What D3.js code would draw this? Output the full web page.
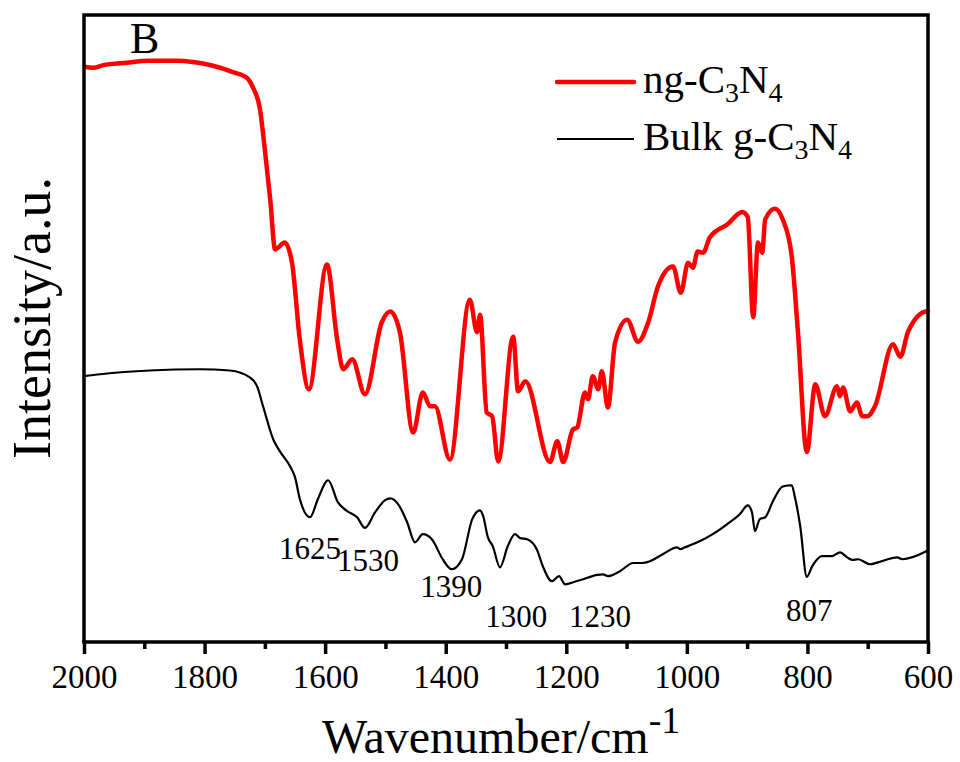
<!DOCTYPE html>
<html>
<head>
<meta charset="utf-8">
<script src="https://cdn.jsdelivr.net/npm/d3@7/dist/d3.min.js"></script>
<style>
  html, body { margin: 0; padding: 0; background: #fff; }
  text { font-family: "Liberation Serif", "Times New Roman", serif; fill: #000; }
</style>
</head>
<body>
<svg id="chart" width="960" height="762"></svg>
<script>
// ---- Data (wavenumber cm^-1, intensity a.u.) ----
const ngWave = [1998,1985,1968,1929,1895,1846,1819,1786,1753,1730,1720,1708,1700,1691,1683,1667,1655,1642,1627,1597,1580,1570,1555,1534,1506,1492,1476,1454,1438,1426,1418,1393,1360,1348,1343,1332,1323,1313,1288,1280,1268,1227,1215,1205,1189,1182,1169,1164,1156,1147,1141,1131,1119,1099,1081,1064,1048,1023,1010,998,990,982,973,962,933,908,899,890,882,875,870,854,841,826,816,801,787,771,751,746,741,729,718,709,701,688,658,646,633,602,600];
const ngInt  = [91.7,91.6,92.0,92.4,92.7,92.7,92.5,91.9,90.9,90.0,88.5,84.9,78.5,70.5,62.6,63.7,60.5,48.2,40.3,60.2,48.2,43.5,45.1,39.5,51.0,52.7,49.4,33.4,39.8,37.6,37.6,29.1,54.6,49.4,52.2,36.6,36.0,28.8,48.7,40.0,41.6,28.7,32.0,28.7,33.9,34.2,39.8,38.7,42.4,40.3,43.2,37.4,47.8,51.4,47.9,51.0,56.7,59.9,55.7,60.5,59.7,62.3,62.1,64.5,66.6,68.6,67.8,51.8,63.7,62.1,67.4,69.1,67.4,61.5,49.8,30.3,41.1,36.0,40.8,39.2,40.6,36.8,38.2,36.0,36.0,37.6,47.5,45.5,49.5,52.7,52.7];

const bulkWave = [2000,1973,1891,1808,1758,1725,1713,1703,1686,1675,1658,1650,1642,1625,1612,1595,1579,1564,1547,1534,1517,1501,1492,1479,1464,1451,1438,1423,1405,1390,1373,1356,1343,1338,1330,1322,1310,1297,1285,1277,1265,1249,1239,1224,1212,1202,1186,1172,1149,1139,1131,1111,1089,1074,1061,1040,1016,1011,1003,978,957,933,912,899,892,887,879,870,857,841,826,821,812,801,792,776,759,746,734,726,716,696,683,651,643,602,600];
const bulkInt  = [42.4,42.7,43.3,43.5,43.3,42.2,40.8,37.6,32.3,30.4,28.0,26.3,22.8,19.9,22.8,25.8,22.3,20.9,19.9,18.2,20.7,22.6,22.9,22.0,19.1,15.9,17.2,16.4,13.2,11.6,13.2,19.6,21.0,20.1,16.7,15.3,11.9,15.3,17.2,16.6,16.4,14.8,12.1,9.7,10.5,9.2,9.6,10.0,10.7,10.8,10.5,11.3,12.6,12.6,12.9,14.0,15.1,14.8,15.1,16.1,17.2,18.8,20.4,21.8,20.7,17.7,19.6,19.9,22.5,24.8,25.0,23.2,18.5,10.4,12.1,13.7,13.7,14.3,13.5,13.1,13.2,12.4,12.7,13.5,13.2,14.5,14.6];

const majorTicks = [2000,1800,1600,1400,1200,1000,800,600];
const minorTicks = [1900,1700,1500,1300,1100,900,700];

const peakLabels = ["1625","1530","1390","1300","1230","807"];
const peakWave   = [1625,1529,1391,1283,1144,797];
const peakInt    = [13.2,11.3,7.2,2.4,2.4,3.3];

const seriesNames = ["ng-C", "Bulk g-C"];

// ---- Layout ----
const svg = d3.select("#chart");
const L = 84, R = 928, T = 15, B = 642;

const x = d3.scaleLinear().domain([2000, 600]).range([L, R]);
const y = d3.scaleLinear().domain([0, 100]).range([B, T]);

const line = d3.line()
  .x(d => x(d[0]))
  .y(d => y(d[1]))
  .curve(d3.curveMonotoneX);

const ngData = ngWave.map((w, i) => [w, ngInt[i]]);
const bulkData = bulkWave.map((w, i) => [w, bulkInt[i]]);

// Curves
svg.append("path").datum(bulkData)
  .attr("d", line).attr("fill", "none")
  .attr("stroke", "#000").attr("stroke-width", 2.2)
  .attr("stroke-linejoin", "round");

svg.append("path").datum(ngData)
  .attr("d", line).attr("fill", "none")
  .attr("stroke", "#ff0000").attr("stroke-width", 4.5)
  .attr("stroke-linejoin", "round").attr("stroke-linecap", "round");

// Frame (left, top, right)
svg.append("path")
  .attr("d", `M${L},${B} L${L},${T} L${R},${T} L${R},${B}`)
  .attr("fill", "none").attr("stroke", "#000").attr("stroke-width", 3.5);

// Minor ticks
const minorAxis = d3.axisBottom(x).tickValues(minorTicks).tickSize(7).tickFormat("");
const gMinor = svg.append("g").attr("transform", `translate(0,${B})`).call(minorAxis);
gMinor.select(".domain").remove();
gMinor.selectAll(".tick line").attr("stroke", "#000").attr("stroke-width", 3.5);

// Major axis
const majorAxis = d3.axisBottom(x).tickValues(majorTicks).tickSize(12).tickPadding(11)
  .tickFormat(d3.format("d"));
const gAxis = svg.append("g").attr("transform", `translate(0,${B})`).call(majorAxis);
gAxis.attr("font-family", null);
gAxis.select(".domain").attr("stroke", "#000").attr("stroke-width", 3.5)
  .attr("d", `M${L - 1.75},0H${R + 1.75}`);
gAxis.selectAll(".tick line").attr("stroke", "#000").attr("stroke-width", 3.5);
gAxis.selectAll(".tick text")
  .style("font-family", "'Liberation Serif', serif").attr("font-size", 33).attr("fill", "#000");

// Axis titles
const xt = svg.append("text").attr("x", 322).attr("y", 753)
  .attr("font-size", 48);
xt.append("tspan").text("Wavenumber/cm");
xt.append("tspan").attr("font-size", 38).attr("dy", -20).text("-1");

svg.append("text")
  .attr("transform", "translate(50,318) rotate(-90)")
  .attr("text-anchor", "middle")
  .attr("font-size", 54)
  .text("Intensity/a.u.");

// Panel letter
svg.append("text").attr("x", 130).attr("y", 53).attr("font-size", 44).text("B");

// Peak labels
svg.selectAll("text.peak").data(peakLabels).enter().append("text")
  .attr("class", "peak")
  .attr("x", (d, i) => x(peakWave[i]))
  .attr("y", (d, i) => y(peakInt[i]))
  .attr("text-anchor", "middle")
  .attr("font-size", 31)
  .text(d => d);

// Legend
const legend = [
  { name: seriesNames[0], color: "#ff0000", width: 4.5, y: 82 },
  { name: seriesNames[1], color: "#000", width: 1.8, y: 139 }
];
legend.forEach(l => {
  svg.append("line").attr("x1", 557).attr("x2", 634).attr("y1", l.y).attr("y2", l.y)
    .attr("stroke", l.color).attr("stroke-width", l.width).attr("stroke-linecap", l.width > 3 ? "round" : "butt");
  const t = svg.append("text").attr("x", 643).attr("y", l.y + 11).attr("font-size", 41);
  t.append("tspan").text(l.name);
  t.append("tspan").attr("font-size", 28).attr("dy", 9).text("3");
  t.append("tspan").attr("font-size", 41).attr("dy", -9).text("N");
  t.append("tspan").attr("font-size", 28).attr("dy", 9).text("4");
});
</script>
</body>
</html>
